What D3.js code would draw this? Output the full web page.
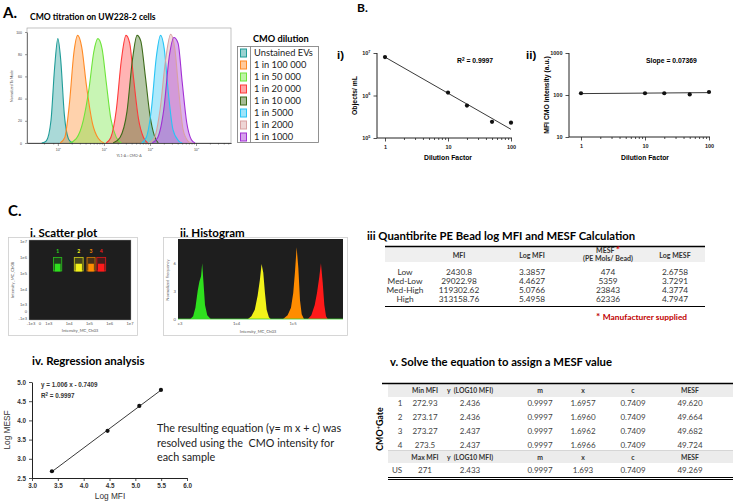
<!DOCTYPE html>
<html>
<head>
<meta charset="utf-8">
<script src="https://cdn.jsdelivr.net/npm/d3@7"></script>
<style>
    body { margin: 0; background: #fff; }
    svg { display: block; font-family: Lato, "Noto Sans", sans-serif; }
    .prism { font-family: "Liberation Sans", Arial, sans-serif; font-weight: bold; }
    .plain { font-family: "Liberation Sans", Arial, sans-serif; font-weight: normal; }
</style>
</head>
<body>
<div id="fig"></div>
<script>
'use strict';

// ---- A. CMO titration on UW228-2 cells (x: log10 CMO-A, y: % of mode)
var dilutionLabels = ['Unstained EVs', '1 in 100 000', '1 in 50 000', '1 in 20 000',
    '1 in 10 000', '1 in 5000', '1 in 2000', '1 in 1000'];
var dilutionColors = ['#1f9c98', '#ff8a25', '#6ee43a', '#ff3a3a', '#3d6b19', '#28c4f5', '#d9a1a1', '#a22fd4'];
var histUnstained = [[-0.35, 0], [-0.25, 2], [-0.15, 20], [-0.07, 68], [0, 94], [0.06, 76], [0.14, 26], [0.24, 3], [0.32, 0]];
var hist100k = [[0.05, 0], [0.15, 5], [0.25, 35], [0.35, 82], [0.43, 97], [0.52, 86], [0.62, 52], [0.75, 18], [0.88, 4], [1.0, 0]];
var hist50k = [[0.25, 0], [0.4, 4], [0.55, 20], [0.68, 50], [0.78, 82], [0.87, 94], [0.96, 85], [1.05, 55], [1.15, 22], [1.27, 5], [1.38, 0]];
var hist20k = [[1.05, 0], [1.15, 5], [1.27, 30], [1.38, 75], [1.48, 97], [1.56, 90], [1.64, 60], [1.75, 22], [1.86, 5], [1.95, 0]];
var hist10k = [[1.2, 0], [1.35, 5], [1.5, 28], [1.62, 75], [1.72, 97], [1.8, 92], [1.9, 60], [2.0, 25], [2.1, 6], [2.18, 0]];
var hist5000 = [[1.82, 0], [1.92, 5], [2.03, 30], [2.14, 78], [2.23, 97], [2.31, 85], [2.4, 45], [2.5, 12], [2.62, 2], [2.7, 0]];
var hist2000 = [[1.98, 0], [2.1, 5], [2.22, 30], [2.34, 75], [2.45, 98], [2.54, 85], [2.63, 45], [2.72, 12], [2.82, 2], [2.9, 0]];
var hist1000 = [[2.05, 0], [2.17, 5], [2.3, 30], [2.42, 78], [2.52, 95], [2.61, 90], [2.7, 55], [2.8, 18], [2.9, 3], [2.98, 0]];
var histA = [histUnstained, hist100k, hist50k, hist20k, hist10k, hist5000, hist2000, hist1000];
var aTicksY = [0, 20, 40, 60, 80, 100];
var aTicksX = [0, 1, 2, 3];

// ---- B. dilution series
var dilutionFactor = [1, 10, 20, 50, 100];
var objectsPerMl = [8.0e6, 1.17e6, 5.8e5, 2.4e5, 2.3e5];
var fitObjects = [8.0e6, 1.6e5];       // fitted line at factor 1 and 100
var mfiCmo = [110, 110, 110, 103, 118];
var fitMfi = [108, 114];

// ---- C.i scatter plot gates (intensity units)
var scatterTicks = [-1e3, 0, 1e3, 1e4, 1e5, 1e6, 1e7];
var scatterTickLabels = ['-1e3', '0', '1e3', '1e4', '1e5', '1e6', '1e7'];
var gateNames = ['1', '2', '3', '4'];
var gateColors = ['#2fe01e', '#f2f21a', '#ff8c00', '#ff1a1a'];
var gateMin = [1.7e3, 1.8e4, 7.6e4, 2.3e5];
var gateMax = [4.3e3, 4.9e4, 1.9e5, 6.3e5];
var gateYRange = [1.4e5, 1.0e6];
var clusterYRange = [1.3e5, 4.0e5];

// ---- C.ii bead histogram (x: log10 intensity, y: normalized frequency)
var beadHistLow = [[3.20, 0], [3.25, 0.3], [3.29, 1.2], [3.33, 3.0], [3.36, 4.0], [3.39, 4.6], [3.41, 6.0], [3.43, 4.2], [3.46, 1.5], [3.50, 0.4], [3.56, 0]];
var beadHistMedLow = [[4.22, 0], [4.28, 0.3], [4.34, 1.0], [4.39, 2.5], [4.43, 4.2], [4.46, 5.9], [4.49, 5.0], [4.52, 2.8], [4.55, 1.0], [4.59, 0.2], [4.62, 0]];
var beadHistMedHigh = [[4.84, 0], [4.92, 0.4], [4.98, 1.2], [5.02, 2.8], [5.05, 5.0], [5.08, 7.7], [5.11, 5.5], [5.14, 2.0], [5.17, 0.5], [5.21, 0]];
var beadHistHigh = [[5.28, 0], [5.34, 0.4], [5.40, 1.5], [5.44, 2.8], [5.48, 4.5], [5.51, 6.0], [5.54, 4.0], [5.57, 1.5], [5.60, 0.3], [5.63, 0]];
var beadHists = [beadHistLow, beadHistMedLow, beadHistMedHigh, beadHistHigh];

// ---- C.iii Quantibrite PE beads
var beadLevels = ['Low', 'Med-Low', 'Med-High', 'High'];
var beadMfi = ['2430.8', '29022.98', '119302.62', '313158.76'];
var beadLogMfi = [3.3857, 4.4627, 5.0766, 5.4958];
var beadMesf = [474, 5359, 23843, 62336];
var beadLogMesf = [2.6758, 3.7291, 4.3774, 4.7947];

// ---- C.iv regression
var regSlope = 1.006;
var regIntercept = -0.7409;

// ---- C.v MESF assignment
var gateRows = ['1', '2', '3', '4'];
var gateMinMfi = ['272.93', '273.17', '273.27', '273.5'];
var gateLogMfi = ['2.436', '2.436', '2.437', '2.437'];
var gateX = ['1.6957', '1.6960', '1.6962', '1.6966'];
var gateMesf = ['49.620', '49.664', '49.682', '49.724'];
var usRow = ['US', '271', '2.433', '0.9997', '1.693', '0.7409', '49.269'];
var mValue = '0.9997';
var cValue = '0.7409';

var svg = d3.select('#fig').append('svg')
    .attr('width', 735)
    .attr('height', 504);

svg.append('rect').attr('width', 735).attr('height', 504).attr('fill', '#fff');

function label(g, x, y, txt, size, opts) {
    opts = opts || {};
    return g.append('text')
        .attr('x', x).attr('y', y)
        .attr('font-size', size)
        .attr('font-weight', opts.bold ? 'bold' : null)
        .attr('text-anchor', opts.anchor || 'start')
        .attr('fill', opts.fill || '#000')
        .attr('class', opts.cls || null)
        .text(txt);
}

function supLabel(sel, base, exp) {
    sel.text(base).append('tspan').attr('dy', -2.5).attr('font-size', '70%').text(exp);
}

// panel letters
label(svg, 3, 18, 'A.', 15, {bold: true});
label(svg, 357, 12, 'B.', 12, {bold: true});
label(svg, 8, 216, 'C.', 15, {bold: true});

function drawPanelA() {
    var g = svg.append('g');
    var x = d3.scaleLinear().domain([-0.67, 3.76]).range([27, 231]);
    var y = d3.scaleLinear().domain([0, 100]).range([143, 32]);

    label(g, 30, 20, 'CMO titration  on UW228-2 cells', 8.6, {bold: true});

    g.append('rect')
        .attr('x', 27).attr('y', 28).attr('width', 204).attr('height', 115)
        .attr('fill', 'none').attr('stroke', '#999').attr('stroke-width', 0.6);

    var area = d3.area()
        .x(function(d) { return x(d[0]); })
        .y0(y(0))
        .y1(function(d) { return y(d[1]); })
        .curve(d3.curveMonotoneX);
    var line = d3.line()
        .x(function(d) { return x(d[0]); })
        .y(function(d) { return y(d[1]); })
        .curve(d3.curveMonotoneX);

    histA.forEach(function(h, i) {
        g.append('path').attr('d', area(h))
            .attr('fill', dilutionColors[i]).attr('fill-opacity', 0.38);
    });
    histA.forEach(function(h, i) {
        g.append('path').attr('d', line(h))
            .attr('fill', 'none').attr('stroke', dilutionColors[i]).attr('stroke-width', 1.1);
    });

    var ya = g.append('g').attr('transform', 'translate(27,0)')
        .call(d3.axisLeft(y).tickValues(aTicksY).tickSize(2).tickSizeOuter(0));
    ya.selectAll('text').attr('font-size', 3.5).attr('fill', '#444');
    var minor = [];
    aTicksX.forEach(function(e) { for (var k = 2; k < 10; k++) minor.push(e + Math.log10(k)); });
    minor.push(-0.3, -0.1);
    g.append('g').attr('transform', 'translate(0,143)')
        .call(d3.axisBottom(x).tickValues(minor.filter(function(v) { return v > -0.67 && v < 3.76; }))
            .tickSize(1.5).tickFormat('').tickSizeOuter(0));
    var xb = g.append('g').attr('transform', 'translate(0,143)')
        .call(d3.axisBottom(x).tickValues(aTicksX).tickSize(3).tickSizeOuter(0));
    xb.selectAll('.tick text').attr('font-size', 3.5).attr('fill', '#444')
        .each(function(d) { supLabel(d3.select(this), '10', d); });
    g.selectAll('.domain').attr('stroke', '#333').attr('stroke-width', 0.6);
    g.selectAll('.tick line').attr('stroke', '#333').attr('stroke-width', 0.5);

    label(g, 129, 157, 'YL1-A :: CMO-A', 3.5, {anchor: 'middle', fill: '#555'});
    label(g, 0, 0, 'Normalized To Mode', 3.5, {anchor: 'middle', fill: '#555'})
        .attr('transform', 'translate(13,86) rotate(-90)');

    // legend
    var lg = svg.append('g');
    label(lg, 253, 42, 'CMO dilution', 9.2, {bold: true});
    lg.append('rect').attr('x', 237.5).attr('y', 46.5).attr('width', 81).attr('height', 96)
        .attr('fill', 'none').attr('stroke', '#777').attr('stroke-width', 0.8);
    lg.append('line').attr('x1', 250.5).attr('x2', 250.5).attr('y1', 46.5).attr('y2', 142.5)
        .attr('stroke', '#777').attr('stroke-width', 0.8);
    dilutionLabels.forEach(function(name, i) {
        var cy = 53 + i * 12;
        lg.append('rect').attr('x', 240.5).attr('y', cy - 4).attr('width', 6).attr('height', 8)
            .attr('fill', dilutionColors[i]).attr('fill-opacity', 0.45)
            .attr('stroke', dilutionColors[i]).attr('stroke-width', 1);
        label(lg, 254, cy + 3.3, name, 9.3, {fill: '#222'});
    });
}

function drawDilutionPlot(opt) {
    var g = svg.append('g').attr('class', 'prism');
    var x = d3.scaleLog().domain([1, 100]).range(opt.xr);
    var y = d3.scaleLog().domain(opt.yd).range(opt.yr);

    label(g, opt.tagX, 59, opt.tag, 11.5, {bold: true, cls: 'prism'});

    // axes
    g.append('line').attr('x1', opt.axisX).attr('x2', opt.xr[1] + 1)
        .attr('y1', opt.yr[0]).attr('y2', opt.yr[0]).attr('stroke', '#222').attr('stroke-width', 1);
    g.append('line').attr('x1', opt.axisX).attr('x2', opt.axisX)
        .attr('y1', opt.yr[0]).attr('y2', opt.yr[1]).attr('stroke', '#222').attr('stroke-width', 1);

    var xMinor = [];
    [1, 10].forEach(function(b) { for (var k = 2; k < 10; k++) xMinor.push(b * k); });
    var xa = g.append('g').attr('transform', 'translate(0,' + opt.yr[0] + ')');
    xa.call(d3.axisBottom(x).tickValues(xMinor).tickSize(2).tickFormat('').tickSizeOuter(0));
    var xb = g.append('g').attr('transform', 'translate(0,' + opt.yr[0] + ')');
    xb.call(d3.axisBottom(x).tickValues([1, 10, 100]).tickSize(3.5).tickSizeOuter(0).tickFormat(d3.format('d')));
    xb.selectAll('text').attr('font-size', 5.5).attr('dy', '0.9em');

    var yb = g.append('g').attr('transform', 'translate(' + opt.axisX + ',0)');
    yb.call(d3.axisLeft(y).tickValues(opt.yTicks).tickSize(3.5).tickSizeOuter(0));
    yb.selectAll('text').attr('font-size', 5.5);
    if (opt.supTicks) {
        yb.selectAll('.tick text').each(function(d) {
            supLabel(d3.select(this), '10', Math.round(Math.log10(d)));
        });
    } else {
        yb.selectAll('.tick text').text(d3.format('d'));
    }
    g.selectAll('.domain').remove();
    g.selectAll('.tick line').attr('stroke', '#222').attr('stroke-width', 0.8);
    g.selectAll('.tick text').attr('font-family', '"Liberation Sans", Arial, sans-serif')
        .attr('font-weight', 'bold').attr('fill', '#222');

    // fit line and points
    g.append('line')
        .attr('x1', x(1)).attr('y1', y(opt.fit[0]))
        .attr('x2', x(100)).attr('y2', y(opt.fit[1]))
        .attr('stroke', '#222').attr('stroke-width', 0.9);
    g.selectAll('circle.pt').data(opt.values).enter().append('circle')
        .attr('cx', function(d, i) { return x(dilutionFactor[i]); })
        .attr('cy', function(d) { return y(d); })
        .attr('r', 2.1).attr('fill', '#111');

    label(g, 0, 0, opt.yLabel, 6.8, {bold: true, anchor: 'middle', cls: 'prism'})
        .attr('transform', 'translate(' + opt.yLabelX + ',' + ((opt.yr[0] + opt.yr[1]) / 2) + ') rotate(-90)');
    label(g, (opt.xr[0] + opt.xr[1]) / 2, 160, 'Dilution Factor', 6.8, {bold: true, anchor: 'middle', cls: 'prism'});
    var st = label(g, opt.statX, 63, '', 6.8, {bold: true, cls: 'prism'});
    opt.stat(st);
}

function drawPanelC_scatter() {
    var g = svg.append('g');
    g.append('rect').attr('x', 8.5).attr('y', 237.5).attr('width', 129).attr('height', 98)
        .attr('fill', '#fff').attr('stroke', '#ccc').attr('stroke-width', 0.8);
    g.append('rect').attr('x', 29).attr('y', 240).attr('width', 102).attr('height', 80)
        .attr('fill', '#1e1e1e').attr('stroke', '#aaa').attr('stroke-width', 0.4);
    label(g, 30, 237, 'i. Scatter plot', 11.5, {bold: true});

    function biex(v) { return v >= 1e3 ? Math.log10(v) - 3 : v / 1e3 * 0.44 - 0.44; }
    var sx = d3.scaleLinear().domain([-0.98, 4.05]).range([29, 131]);
    var sy = d3.scaleLinear().domain([-0.95, 4.1]).range([320, 240]);
    function px(v) { return sx(biex(v)); }
    function py(v) { return sy(biex(v)); }

    scatterTicks.forEach(function(v, i) {
        label(g, px(v), 325, scatterTickLabels[i], 4.2, {anchor: 'middle', fill: '#555', cls: 'plain'});
        label(g, 27, py(v) + 1.5, scatterTickLabels[i], 4.2, {anchor: 'end', fill: '#555', cls: 'plain'});
    });
    label(g, 80, 332, 'Intensity_MC_Ch03', 4.2, {anchor: 'middle', fill: '#555'});
    label(g, 0, 0, 'Intensity_MC_Ch08', 4.2, {anchor: 'middle', fill: '#555'})
        .attr('transform', 'translate(14,280) rotate(-90)');

    gateNames.forEach(function(n, i) {
        var x0 = px(gateMin[i]), x1 = px(gateMax[i]);
        g.append('rect').attr('x', x0).attr('y', py(gateYRange[1]))
            .attr('width', x1 - x0).attr('height', py(gateYRange[0]) - py(gateYRange[1]))
            .attr('fill', gateColors[i]).attr('fill-opacity', 0.18)
            .attr('stroke', gateColors[i]).attr('stroke-opacity', 0.75).attr('stroke-width', 0.9);
        g.append('rect').attr('x', x0 + 1.2).attr('y', py(clusterYRange[1]))
            .attr('width', x1 - x0 - 2.4).attr('height', py(clusterYRange[0]) - py(clusterYRange[1]))
            .attr('fill', gateColors[i]);
        label(g, (x0 + x1) / 2, py(gateYRange[1]) - 4, n, 5, {anchor: 'middle', fill: gateColors[i], bold: true});
    });
}

function drawPanelC_hist() {
    var g = svg.append('g');
    g.append('rect').attr('x', 163.5).attr('y', 237.5).attr('width', 184).attr('height', 98)
        .attr('fill', '#fff').attr('stroke', '#ccc').attr('stroke-width', 0.8);
    g.append('rect').attr('x', 178).attr('y', 239).attr('width', 165).attr('height', 80)
        .attr('fill', '#1e1e1e');
    label(g, 180, 237, 'ii. Histogram', 11.5, {bold: true});

    var x = d3.scaleLinear().domain([3, 5.9]).range([179, 343]);
    var y = d3.scaleLinear().domain([0, 8.6]).range([319, 239]);
    var area = d3.area()
        .x(function(d) { return x(d[0]); })
        .y0(y(0))
        .y1(function(d) { return y(d[1]); })
        .curve(d3.curveLinear);
    beadHists.forEach(function(h, i) {
        g.append('path').attr('d', area(h)).attr('fill', gateColors[i]);
    });
    g.append('line').attr('x1', 178).attr('x2', 343).attr('y1', 319).attr('y2', 319)
        .attr('stroke', '#3bd12a').attr('stroke-width', 0.8);

    [0, 3, 6].forEach(function(v) {
        label(g, 176, y(v) + 1.5, v, 4.2, {anchor: 'end', fill: '#555'});
    });
    [[3, 'e3'], [4, '1e4'], [5, '1e5']].forEach(function(t) {
        label(g, x(t[0]) + 1, 325, t[1], 4.2, {anchor: 'middle', fill: '#555'});
    });
    label(g, 258, 333, 'Intensity_MC_Ch03', 4.2, {anchor: 'middle', fill: '#555'});
    label(g, 0, 0, 'Normalized Frequency', 4.2, {anchor: 'middle', fill: '#555'})
        .attr('transform', 'translate(169,280) rotate(-90)');
}

function drawBeadTable() {
    var g = svg.append('g');
    label(g, 367, 240, 'iii Quantibrite PE Bead log MFI and MESF Calculation', 11.3, {bold: true});
    g.append('rect').attr('x', 385).attr('y', 247).attr('width', 320).attr('height', 15).attr('fill', '#efefef');
    g.append('line').attr('x1', 385).attr('x2', 705).attr('y1', 246.5).attr('y2', 246.5)
        .attr('stroke', '#000').attr('stroke-width', 1.5);
    g.append('line').attr('x1', 385).attr('x2', 705).attr('y1', 306.5).attr('y2', 306.5)
        .attr('stroke', '#000').attr('stroke-width', 1);
    var cols = [405, 459, 532, 608, 675];
    label(g, cols[1], 257.5, 'MFI', 7, {bold: true, anchor: 'middle', fill: '#333'});
    label(g, cols[2], 257.5, 'Log MFI', 7, {bold: true, anchor: 'middle', fill: '#333'});
    var ms = label(g, cols[3], 253, 'MESF ', 7, {bold: true, anchor: 'middle', fill: '#333'});
    ms.append('tspan').attr('fill', '#d00').attr('font-size', 9).text('*');
    label(g, cols[3], 261, '(PE Mols/ Bead)', 7, {bold: true, anchor: 'middle', fill: '#333'});
    label(g, cols[4], 257.5, 'Log MESF', 7, {bold: true, anchor: 'middle', fill: '#333'});
    beadLevels.forEach(function(lv, i) {
        var yy = 275 + i * 9;
        var cells = [lv, beadMfi[i], beadLogMfi[i].toFixed(4), beadMesf[i], beadLogMesf[i].toFixed(4)];
        cells.forEach(function(c, j) {
            label(g, cols[j], yy, c, 8.3, {anchor: 'middle', fill: '#333'});
        });
    });
    var ms2 = label(g, 596, 320, '* ', 10, {bold: true, fill: '#c00000'});
    ms2.append('tspan').attr('font-size', 8.4).text('Manufacturer supplied');
}

function drawRegression() {
    var g = svg.append('g');
    label(g, 32, 365, 'iv. Regression analysis', 11.5, {bold: true});
    var x = d3.scaleLinear().domain([3, 6]).range([32, 187]);
    var y = d3.scaleLinear().domain([2.5, 5]).range([478, 382]);
    g.append('g').attr('transform', 'translate(0,478)')
        .call(d3.axisBottom(x).tickValues(d3.range(3, 6.01, 0.5)).tickSize(3).tickSizeOuter(0)
            .tickFormat(d3.format('.1f')));
    g.append('g').attr('transform', 'translate(32,0)')
        .call(d3.axisLeft(y).tickValues(d3.range(2.5, 5.01, 0.5)).tickSize(3).tickSizeOuter(0)
            .tickFormat(d3.format('.1f')));
    g.selectAll('.domain').attr('stroke', '#222').attr('stroke-width', 1);
    g.selectAll('.tick line').attr('stroke', '#222').attr('stroke-width', 0.8);
    g.selectAll('.tick text').attr('font-family', '"Liberation Sans", Arial, sans-serif')
        .attr('font-weight', 'bold').attr('font-size', 6.3).attr('fill', '#333');

    g.append('line')
        .attr('x1', x(beadLogMfi[0])).attr('y1', y(regSlope * beadLogMfi[0] + regIntercept))
        .attr('x2', x(beadLogMfi[3])).attr('y2', y(regSlope * beadLogMfi[3] + regIntercept))
        .attr('stroke', '#222').attr('stroke-width', 0.9);
    g.selectAll('circle').data(beadLogMesf).enter().append('circle')
        .attr('cx', function(d, i) { return x(beadLogMfi[i]); })
        .attr('cy', function(d) { return y(d); })
        .attr('r', 2.1).attr('fill', '#111');

    label(g, 41, 387, 'y = 1.006 x - 0.7409', 6.3, {bold: true, cls: 'prism', fill: '#333'});
    var r2 = label(g, 41, 398, '', 6.3, {bold: true, cls: 'prism', fill: '#333'});
    supLabel(r2, 'R', '2');
    r2.append('tspan').attr('dy', 2.5).text(' = 0.9997');

    label(g, 110, 499, 'Log MFI', 8.3, {anchor: 'middle', fill: '#333', cls: 'plain'});
    label(g, 0, 0, 'Log MESF', 8.3, {anchor: 'middle', fill: '#333', cls: 'plain'})
        .attr('transform', 'translate(10,430) rotate(-90)');

    var para = ['The resulting equation (y= m x + c) was', 'resolved using the  CMO intensity for', 'each sample'];
    para.forEach(function(s, i) {
        label(g, 157, 432 + i * 14.5, s, 10.8, {fill: '#222'}).attr('xml:space', 'preserve');
    });
}

function drawMesfTable() {
    var g = svg.append('g');
    label(g, 390, 366, 'v. Solve the equation to assign a MESF value', 11.3, {bold: true});
    g.append('rect').attr('x', 388).attr('y', 384).attr('width', 345).attr('height', 13).attr('fill', '#ececec');
    g.append('rect').attr('x', 388).attr('y', 451).attr('width', 345).attr('height', 12).attr('fill', '#ececec');
    g.append('line').attr('x1', 382).attr('x2', 733).attr('y1', 383.5).attr('y2', 383.5)
        .attr('stroke', '#000').attr('stroke-width', 1.5);
    g.append('line').attr('x1', 388).attr('x2', 733).attr('y1', 450.5).attr('y2', 450.5)
        .attr('stroke', '#bbb').attr('stroke-width', 0.6);
    g.append('line').attr('x1', 388).attr('x2', 733).attr('y1', 477.5).attr('y2', 477.5)
        .attr('stroke', '#000').attr('stroke-width', 1);
    g.append('line').attr('x1', 388).attr('x2', 733).attr('y1', 479.5).attr('y2', 479.5)
        .attr('stroke', '#000').attr('stroke-width', 1);

    var cols = [400, 425, 470, 540, 583, 633, 690];
    var head1 = ['', 'Min MFI', 'y  (LOG10 MFI)', 'm', 'x', 'c', 'MESF'];
    var head2 = ['', 'Max MFI', 'y  (LOG10 MFI)', 'm', 'x', 'c', 'MESF'];
    head1.forEach(function(h, j) {
        label(g, cols[j], 393, h, 6.8, {bold: true, anchor: 'middle', fill: '#333'}).attr('xml:space', 'preserve');
    });
    head2.forEach(function(h, j) {
        label(g, cols[j], 460, h, 6.8, {bold: true, anchor: 'middle', fill: '#333'}).attr('xml:space', 'preserve');
    });
    gateRows.forEach(function(r, i) {
        var yy = 406 + i * 14;
        var cells = [r, gateMinMfi[i], gateLogMfi[i], mValue, gateX[i], cValue, gateMesf[i]];
        cells.forEach(function(c, j) {
            label(g, cols[j], yy, c, 8, {anchor: 'middle', fill: '#444'});
        });
    });
    usRow.forEach(function(c, j) {
        label(g, j === 0 ? 397 : cols[j], 473, c, 8, {anchor: 'middle', fill: '#444'});
    });
    var t = label(g, 0, 0, 'CMO', 8.8, {bold: true, anchor: 'middle'})
        .attr('transform', 'translate(383,429) rotate(-90)');
    t.append('tspan').attr('dy', -3).attr('font-size', 6).text('+');
    t.append('tspan').attr('dy', 3).text('Gate');
}

drawPanelA();
drawDilutionPlot({
    tag: 'i)', tagX: 337, xr: [385, 511], axisX: 377, yd: [1e5, 1e7], yr: [138, 53],
    yTicks: [1e5, 1e6, 1e7], supTicks: true, values: objectsPerMl, fit: fitObjects,
    yLabel: 'Objects/ mL', yLabelX: 357, statX: 457,
    stat: function(s) { supLabel(s, 'R', '2'); s.append('tspan').attr('dy', 2.5).text(' = 0.9997'); }
});
drawDilutionPlot({
    tag: 'ii)', tagX: 526, xr: [581, 709], axisX: 569, yd: [10, 1000], yr: [137, 53],
    yTicks: [10, 100, 1000], supTicks: false, values: mfiCmo, fit: fitMfi,
    yLabel: 'MFI CMO Intensity (a.u.)', yLabelX: 549, statX: 646,
    stat: function(s) { s.text('Slope = 0.07369'); }
});
drawPanelC_scatter();
drawPanelC_hist();
drawBeadTable();
drawRegression();
drawMesfTable();
</script>
</body>
</html>
